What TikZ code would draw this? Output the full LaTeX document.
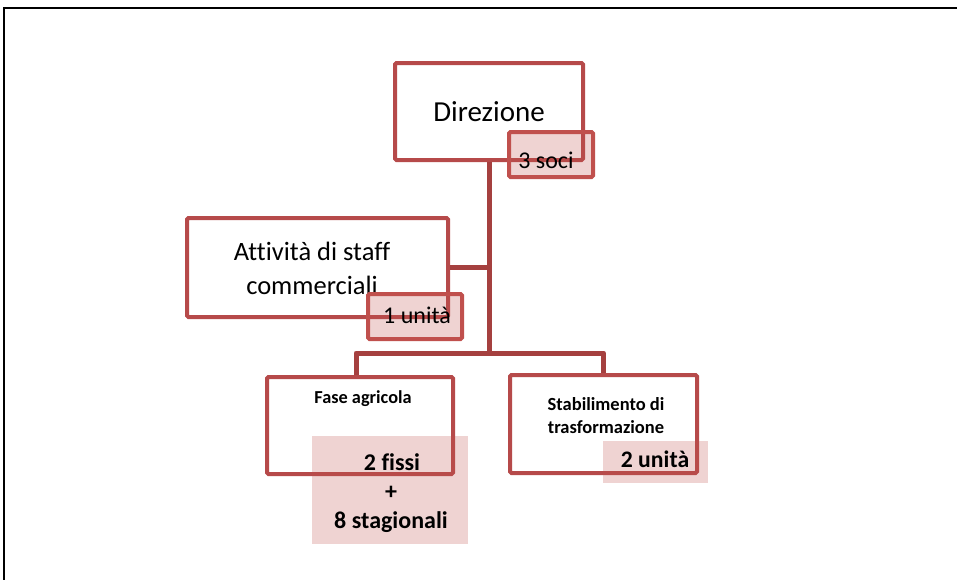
\documentclass[tikz,border=0pt]{standalone}
\usepackage{fontspec}
\setmainfont{Carlito}[Ligatures=NoCommon]
\definecolor{boxred}{HTML}{B64A4A}
\definecolor{labred}{HTML}{C0504D}
\definecolor{linkred}{HTML}{A5403F}
\definecolor{pink}{HTML}{C0504D}
\tikzset{
  unitbox/.style={draw=boxred, line width=4pt, rounded corners=1.5pt, fill=white, inner sep=0pt},
  labbox/.style={draw=labred, line width=4pt, rounded corners=1.5pt, fill=pink, fill opacity=0.25, inner sep=0pt},
  pinkbox/.style={fill=pink, fill opacity=0.25, inner sep=0pt},
  link/.style={draw=linkred, line width=5pt},
  txt/.style={anchor=base, inner sep=0pt},
}
\begin{document}
\begin{tikzpicture}[x=1pt,y=-1pt]
\useasboundingbox (0,0) rectangle (957,579);
% frame
\draw[line width=2pt] (4,581) -- (4,8) -- (960,8);
% boxes
\coordinate (j) at (489,353);
\node[unitbox, minimum width=188pt, minimum height=97pt] (dir) at (489,111.5) {};
\node[unitbox, minimum width=261pt, minimum height=99pt] (staff) at (317.5,267.5) {};
\node[unitbox, minimum width=186pt, minimum height=97pt] (fase) at (360,425.5) {};
\node[unitbox, minimum width=187pt, minimum height=98pt] (stab) at (603.5,424) {};
% connectors
\draw[link] (dir.south) -- (j);
\draw[link] (staff.east) -- (staff.east -| dir.south);
\draw[link, line join=round] ([xshift=-4pt]fase.north) |- (j) -| (stab.north);
% texts
\node[txt, font=\fontsize{29}{32}\selectfont] (dirt) at (489,121) {Direzione};
\node[txt, font=\fontsize{26.5}{32}\selectfont] (staff1) at (312,260) {Attività di staff};
\node[txt, font=\fontsize{26.5}{32}\selectfont] (staff2) at (312,294) {commerciali};
\node[txt, font=\bfseries\fontsize{18.3}{20}\selectfont] (faset) at (363,403) {Fase agricola};
\node[txt, font=\bfseries\fontsize{18.5}{20}\selectfont] (stab1) at (606,410) {Stabilimento di};
\node[txt, font=\bfseries\fontsize{18.5}{20}\selectfont] (stab2) at (606,433) {trasformazione};
% label boxes
\node[labbox, minimum width=84pt, minimum height=45pt] (soci) at (551,154.5) {};
\node[txt, font=\fontsize{24}{26}\selectfont] (socit) at (546,168) {3 soci};
\node[labbox, minimum width=94pt, minimum height=45pt] (unita1) at (415,316.5) {};
\node[txt, font=\fontsize{24}{26}\selectfont] (unita1t) at (417,323) {1 unità};
\node[pinkbox, minimum width=156pt, minimum height=108pt] (fissi) at (390,490) {};
\node[txt, font=\bfseries\fontsize{24}{26}\selectfont] (fissi1) at (392,470) {2 fissi};
\node[txt, font=\bfseries\fontsize{24}{26}\selectfont] (fissi2) at (391,499.5) {+};
\node[txt, font=\bfseries\fontsize{24}{26}\selectfont] (fissi3) at (391,528) {8 stagionali};
\node[pinkbox, minimum width=105pt, minimum height=42pt] (unita2) at (655.5,462) {};
\node[txt, font=\bfseries\fontsize{23.7}{26}\selectfont] (unita2t) at (655,467) {2 unità};
\end{tikzpicture}
\end{document}
